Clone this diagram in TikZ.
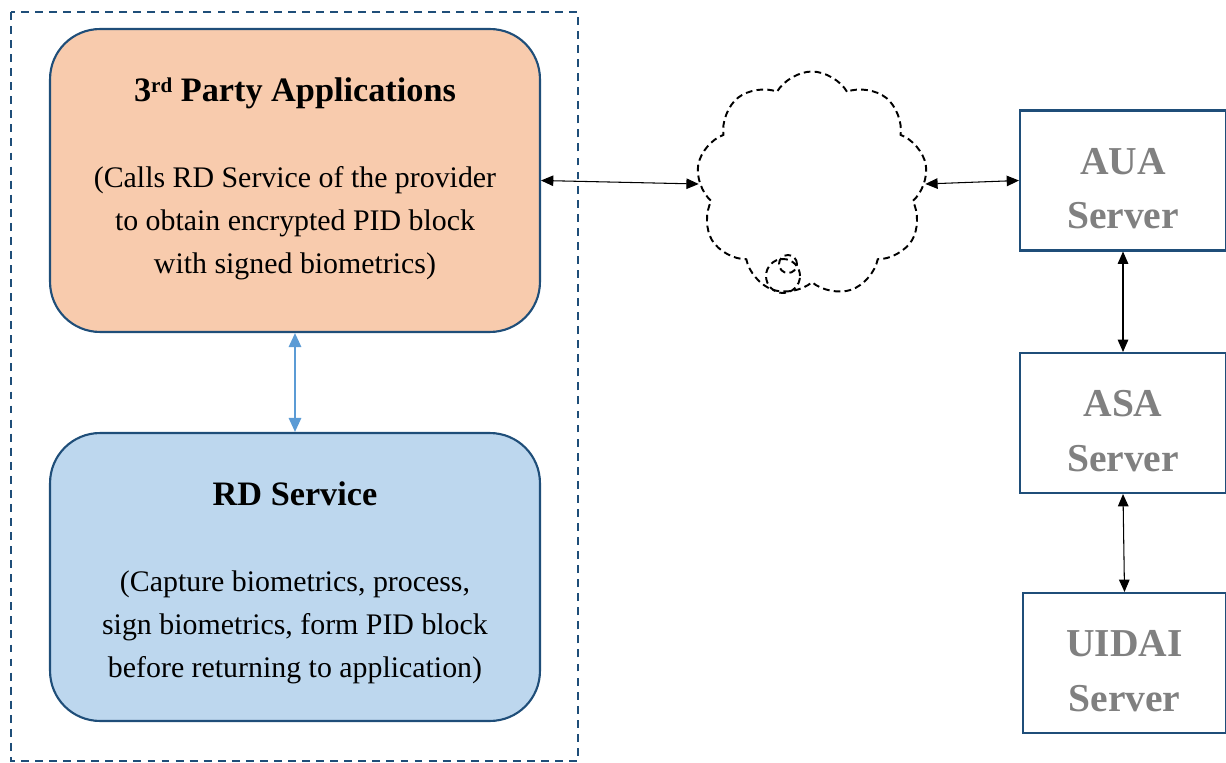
\documentclass[tikz,border=0pt]{standalone}
\usepackage{fontspec}
\setmainfont{Liberation Serif}
\usetikzlibrary{shapes.symbols,arrows.meta}

\definecolor{frame}{RGB}{31,78,121}
\definecolor{appfill}{RGB}{248,203,173}
\definecolor{rdfill}{RGB}{189,215,238}
\definecolor{link}{RGB}{91,155,213}
\definecolor{servgray}{RGB}{128,128,128}

\tikzset{
  appbox/.style={draw=frame, line width=1.2pt, rounded corners=1cm,
    minimum width=9.8cm, inner sep=0pt},
  server/.style={draw=frame, line width=1.2pt, minimum width=4.12cm,
    minimum height=2.8cm, inner sep=0pt},
  servlabel/.style={text=servgray, align=center, yshift=-4.5pt,
    font=\fontsize{22.5}{31}\selectfont\bfseries},
  title/.style={font=\fontsize{19.5}{24}\selectfont\bfseries},
  body/.style={align=center, font=\fontsize{17}{24.4}\selectfont},
  cloudline/.style={draw, line width=1.1pt, dash pattern=on 3.8pt off 2.4pt},
  dbl/.style={{Triangle[length=7pt,width=6pt]}-{Triangle[length=7pt,width=6pt]}, line width=0.6pt},
  bluedbl/.style={{Triangle[length=8pt,width=7pt]}-{Triangle[length=8pt,width=7pt]}, line width=1.2pt, draw=link, fill=link}
}

\begin{document}
\begin{tikzpicture}[x=0.02cm, y=-0.02cm]
  \useasboundingbox (0,0) rectangle (1226,763);

  % device side
  \draw[frame, line width=1.1pt, dash pattern=on 4.5pt off 3.5pt] (11,12) rectangle (578,761);

  \node[appbox, fill=appfill, minimum height=6.06cm] (app) at (295,180.5) {};
  \node[title] (apptitle) at (295,93) {3{\fontsize{12}{12}\selectfont\raisebox{5pt}{rd}} Party Applications};
  \node[body] (apptext) at (295,223) {(Calls RD Service of the provider\\to obtain encrypted PID block\\with signed biometrics)};

  \node[appbox, fill=rdfill, minimum height=5.76cm] (rd) at (295,577) {};
  \node[title] (rdtitle) at (295,494) {RD Service};
  \node[body] (rdtext) at (295,627) {(Capture biometrics, process,\\sign biometrics, form PID block\\before returning to application)};

  \draw[bluedbl] (app.south) -- (rd.north);

  % network
  \node[cloud, cloudline, cloud puffs=9, cloud puff arc=120, aspect=1,
    minimum width=4.62cm, minimum height=4.5cm] (net) at (812,184) {};
  \node[circle, cloudline, minimum size=0.68cm, inner sep=0pt] (bubble) at (783,276) {};
  \node[circle, cloudline, minimum size=0.36cm, inner sep=0pt] (bubblein) at (788,264) {};

  % servers
  \node[server, label={[servlabel]center:AUA\\Server}] (aua) at (1123,180.5) {};
  \node[server, label={[servlabel]center:ASA\\Server}] (asa) at (1123,423) {};
  \node[server, minimum width=4.06cm, label={[servlabel]center:UIDAI\\Server}] (uidai) at (1124.5,663) {};

  \draw[dbl] (app.east) -- (net.west);
  \draw[dbl] (net.east) -- (aua.west);
  \draw[dbl] (aua.south) -- (asa.north);
  \draw[dbl] (asa.south) -- (uidai.north);
\end{tikzpicture}
\end{document}
